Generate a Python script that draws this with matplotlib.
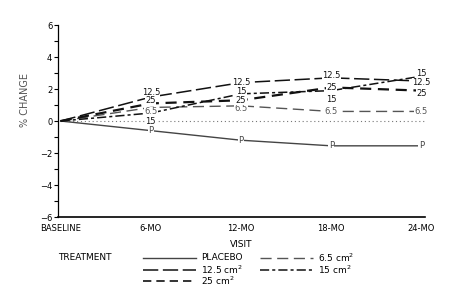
import numpy as np
import matplotlib
matplotlib.use('Agg')
import matplotlib.pyplot as plt
from matplotlib.lines import Line2D

plt.rcParams['font.family'] = ['Liberation Sans Narrow', 'DejaVu Sans']

visits = ['BASELINE', '6-MO', '12-MO', '18-MO', '24-MO']
placebo = [0, -0.6, -1.2, -1.55, -1.55]
cm6_5 = [0, 0.85, 0.95, 0.6, 0.6]
cm12_5 = [0, 1.5, 2.4, 2.7, 2.5]
cm15 = [0, 0.5, 1.7, 1.9, 2.8]
cm25 = [0, 1.1, 1.3, 2.1, 1.9]

# label, values, marker text, dash pattern, width, colour, label y offsets (pt)
series = [
    ('PLACEBO', placebo, 'P', None, 1.0, '#444444', [0, 0, 0, 0, 0]),
    ('6.5 cm$^2$', cm6_5, '6.5', (8, 4), 1.0, '#555555', [0, -3, -2, 0, 0]),
    ('12.5 cm$^2$', cm12_5, '12.5', (10, 3), 1.1, '#111111', [0, 3, 0, 1.5, -1]),
    ('15 cm$^2$', cm15, '15', (6, 2, 2, 2), 1.1, '#111111', [0, -6, 2, -6.5, 2]),
    ('25 cm$^2$', cm25, '25', (5, 3), 1.6, '#111111', [0, 2, 0, 0, -2]),
]

fig = plt.figure(figsize=(4.63, 2.88), dpi=100)
ax = fig.add_axes([0.125, 0.2465, 0.793, 0.6665])
x = np.arange(len(visits))

ax.plot([0, 4.05], [0, 0], color='#777777', lw=0.8, ls=(0, (1, 2.5)))
for name, vals, mk, dash, lw, col, offs in series:
    line, = ax.plot(x, vals, color=col, lw=lw)
    if dash is not None:
        line.set_dashes(dash)
    for xi, yi, dy in zip(x[1:], vals[1:], offs[1:]):
        ax.annotate(mk, (xi, yi), xytext=(0, dy), textcoords='offset points',
                    ha='center', va='center', fontsize=6, color=col,
                    bbox=dict(boxstyle='square,pad=0.05', fc='white', ec='none'))

ax.set_xlim(-0.03, 4.04)
ax.set_ylim(-6, 6)
ax.set_yticks(np.arange(-6, 7, 2))
ax.set_yticks(np.arange(-5, 6, 2), minor=True)
ax.set_xticks(x)
ax.set_xticklabels(visits)
ax.tick_params(axis='x', length=0, labelsize=6, pad=5)
ax.tick_params(axis='y', which='both', length=3, width=0.8, labelsize=6, pad=1)
for s in ['top', 'right']:
    ax.spines[s].set_visible(False)
ax.spines['left'].set_linewidth(0.9)
ax.spines['bottom'].set_linewidth(1.2)
ax.set_ylabel('% CHANGE', fontsize=7, color='#555555')
ax.yaxis.set_label_coords(-0.076, 0.61)
ax.set_xlabel('VISIT', fontsize=6.5, labelpad=5)

# legend drawn in figure pixel coordinates
W, H = 463, 288
fig.text(58 / W, 1 - 258 / H, 'TREATMENT', fontsize=6.5, va='center')
slots = [(143, 196, 258), (260, 313, 258), (143, 196, 270), (260, 313, 270), (143, 196, 281)]
for (x0, x1, yy), s in zip(slots, series):
    name, vals, mk, dash, lw, col, offs = s
    ln = Line2D([x0 / W, x1 / W], [1 - yy / H, 1 - yy / H], transform=fig.transFigure,
                color=col, lw=min(lw, 1.2))
    if dash is not None:
        ln.set_dashes(dash)
    fig.add_artist(ln)
    fig.text((x1 + 5) / W, 1 - yy / H, name, fontsize=6.5, va='center')

fig.savefig('out.png', dpi=100)
